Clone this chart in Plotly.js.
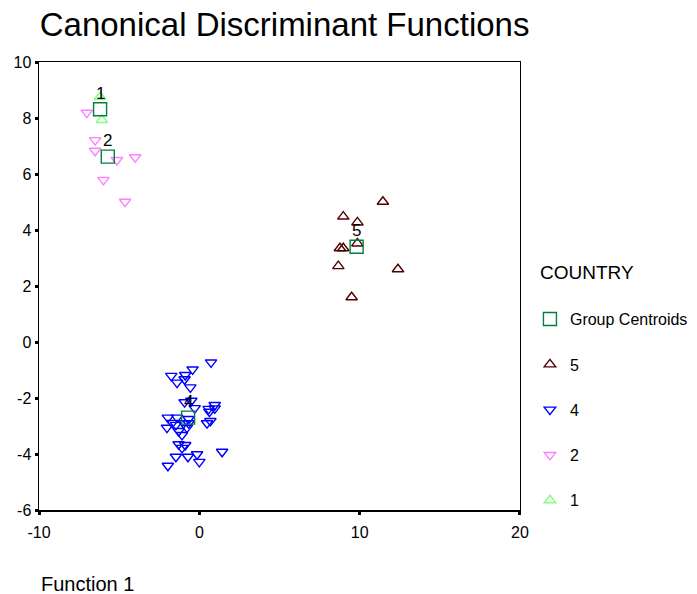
<!DOCTYPE html>
<html>
<head>
<meta charset="utf-8">
<script src="https://cdn.plot.ly/plotly-3.0.1.min.js"></script>
<style>html,body{margin:0;padding:0;background:#fff;}#chart{width:697px;height:594px;}</style>
</head>
<body>
<div id="chart"></div>
<script>
// ---- data (Function 1 = x, Function 2 = y) ----
const group1X = [-6.19, -6.08];
const group1Y = [8.75, 7.93];

const group2X = [-7.02, -6.5, -6.5, -5.14, -4.0, -5.98, -4.63];
const group2Y = [8.19, 7.21, 6.83, 6.5, 6.6, 5.79, 5.01];

const group4X = [0.73, -0.42, -1.75, -0.88, -1.39, -0.92, -0.56, -0.92, -0.5, -0.29,
                 0.58, 0.96, 0.63, 0.96, -1.96, -1.39, -0.67, -2.02, -1.46, -0.98,
                 -0.67, 0.48, 0.69, -1.29, -0.77, -1.08, -1.29, -0.88, -1.08, -1.46,
                 -0.71, -0.14, 0.0, 1.42, -1.96, -1.69];
const group4Y = [-0.73, -0.98, -1.21, -1.18, -1.45, -1.33, -1.62, -2.15, -2.10, -2.36,
                 -2.39, -2.25, -2.49, -2.37, -2.70, -2.70, -2.75, -3.06, -2.96, -2.90,
                 -2.90, -2.90, -2.82, -3.18, -3.06, -3.32, -3.65, -3.68, -3.78, -4.10,
                 -4.10, -4.01, -4.28, -3.92, -4.42, -2.89];

const group5X = [11.45, 8.98, 9.86, 9.86, 8.77, 8.98, 8.67, 12.39, 9.5];
const group5Y = [5.01, 4.48, 4.27, 3.52, 3.35, 3.35, 2.71, 2.6, 1.6];

const centroidLabels = ["1", "2", "4", "5"];
const centroidX = [-6.19, -5.71, -0.7, 9.81];
const centroidY = [8.31, 6.62, -2.7, 3.40];

const xTicks = [-10, 0, 10, 20];
const yTicks = [-6, -4, -2, 0, 2, 4, 6, 8, 10];

const FONT = "Liberation Sans, Arial, sans-serif";

function pts(name, x, y, symbol, color, size, rank) {
  return {
    type: "scatter", mode: "markers", name: name, x: x, y: y,
    legendgroup: "g" + rank, legendrank: rank, hoverinfo: "skip",
    marker: {symbol: symbol, size: size, color: color,
             line: {color: color, width: 1.4}}
  };
}

const traces = [
  pts("1", group1X, group1Y, "triangle-up-open", "#80ff80", 10, 5),
  pts("2", group2X, group2Y, "triangle-down-open", "#ff80ff", 10, 4),
  pts("4", group4X, group4Y, "triangle-down-open", "#0000ff", 10, 3),
  pts("5", group5X, group5Y, "triangle-up-open", "#500000", 10, 2),
  pts("Group Centroids", centroidX, centroidY, "square-open", "#008040", 13, 1)
];

// paper spans x pixels 39..695 (656 px); plot area spans 39..520
const annotations = centroidLabels.map((t, i) => ({
  x: centroidX[i], y: centroidY[i], xref: "x", yref: "y",
  text: t, showarrow: false, yshift: 16,
  font: {family: FONT, size: 17, color: "#000"}
}));
annotations.push({
  xref: "paper", yref: "paper", x: 0, y: -0.165, xanchor: "left", yanchor: "middle",
  text: "Function 1", showarrow: false,
  font: {family: FONT, size: 20, color: "#000"}
});
annotations.push({
  xref: "paper", yref: "paper", x: 0.7607, y: 0.531, xanchor: "left", yanchor: "middle",
  text: "COUNTRY", showarrow: false,
  font: {family: FONT, size: 19, color: "#000"}
});

const layout = {
  width: 697, height: 594,
  margin: {l: 39, r: 2, t: 62, b: 84},
  paper_bgcolor: "#fff", plot_bgcolor: "#fff",
  font: {family: FONT, color: "#000", size: 16},
  title: {text: "Canonical Discriminant Functions", xref: "container", yref: "container",
          x: 0.057, xanchor: "left", y: 0.958, yanchor: "middle",
          font: {family: FONT, size: 33, color: "#000"}},
  xaxis: {domain: [0, 0.7332], range: [-10, 20], tickvals: xTicks, ticktext: xTicks.map(String),
          showgrid: false, zeroline: false, showline: true, mirror: true,
          linecolor: "#000", linewidth: 1.5, ticks: "outside", ticklen: 3, tickwidth: 3,
          tickcolor: "#000", tickfont: {size: 16}, ticklabelstandoff: 4},
  yaxis: {range: [-6, 10], tickvals: yTicks, ticktext: yTicks.map(String),
          showgrid: false, zeroline: false, showline: true, mirror: true,
          linecolor: "#000", linewidth: 1.5, ticks: "outside", ticklen: 3, tickwidth: 3,
          tickcolor: "#000", tickfont: {size: 16}},
  showlegend: true,
  legend: {x: 0.7484, y: 0.464, xanchor: "left", yanchor: "top",
           traceorder: "grouped", tracegroupgap: 21.5,
           font: {family: FONT, size: 16, color: "#000"},
           bgcolor: "rgba(0,0,0,0)"},
  annotations: annotations
};

Plotly.newPlot("chart", traces, layout, {displayModeBar: false, staticPlot: true});
</script>
</body>
</html>
